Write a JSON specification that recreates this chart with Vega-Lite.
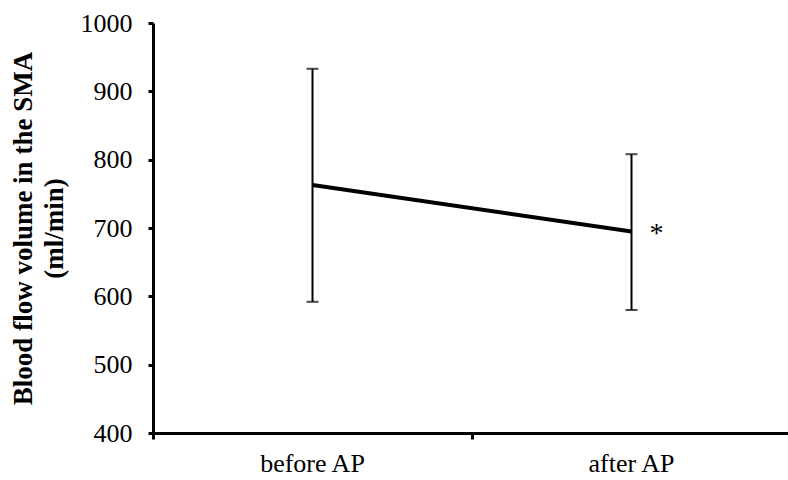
{
  "$schema": "https://vega.github.io/schema/vega-lite/v6.json",
  "width": 638,
  "height": 410,
  "autosize": {"type": "none"},
  "padding": {"left": 153, "top": 23, "right": 0, "bottom": 47},
  "background": "white",
  "config": {
    "view": {"stroke": null},
    "font": "Liberation Serif",
    "axis": {"labelFont": "Liberation Serif", "titleFont": "Liberation Serif", "labelColor": "black", "titleColor": "black", "domainColor": "black", "tickColor": "black", "grid": false}
  },
  "data": {
    "values": [
      {"cond": "before AP", "mean": 763, "lo": 592, "hi": 933, "sig": ""},
      {"cond": "after AP", "mean": 695, "lo": 580, "hi": 808, "sig": "*"}
    ]
  },
  "encoding": {
    "x": {
      "field": "cond", "type": "nominal", "sort": ["before AP", "after AP"],
      "scale": {"paddingInner": 0, "paddingOuter": 0},
      "axis": {"title": null, "labelAngle": 0, "labelFontSize": 26, "labelPadding": 11, "tickSize": 6, "tickWidth": 3, "domainWidth": 3, "bandPosition": 0}
    }
  },
  "layer": [
    {
      "mark": {"type": "rule", "color": "black", "strokeWidth": 2},
      "encoding": {
        "y": {"field": "lo", "type": "quantitative", "scale": {"domain": [400, 1000], "nice": false, "zero": false},
          "axis": {"title": ["Blood flow volume in the SMA", "(ml/min)"], "titleFontSize": 27, "titleFontWeight": "bold", "titlePadding": 12, "titleLineHeight": 31, "labelFontSize": 26, "labelPadding": 16, "tickSize": 5, "tickWidth": 3, "domainWidth": 3, "format": "d", "values": [400, 500, 600, 700, 800, 900, 1000]}},
        "y2": {"field": "hi"}
      }
    },
    {
      "mark": {"type": "tick", "color": "black", "thickness": 2, "size": 12},
      "encoding": {"y": {"field": "lo", "type": "quantitative"}}
    },
    {
      "mark": {"type": "tick", "color": "black", "thickness": 2, "size": 12},
      "encoding": {"y": {"field": "hi", "type": "quantitative"}}
    },
    {
      "mark": {"type": "line", "color": "black", "strokeWidth": 4},
      "encoding": {"y": {"field": "mean", "type": "quantitative"}}
    },
    {
      "mark": {"type": "text", "color": "black", "fontSize": 28, "dx": 25, "dy": 3, "baseline": "middle", "font": "Liberation Serif"},
      "encoding": {"y": {"field": "mean", "type": "quantitative"}, "text": {"field": "sig"}}
    }
  ]
}
